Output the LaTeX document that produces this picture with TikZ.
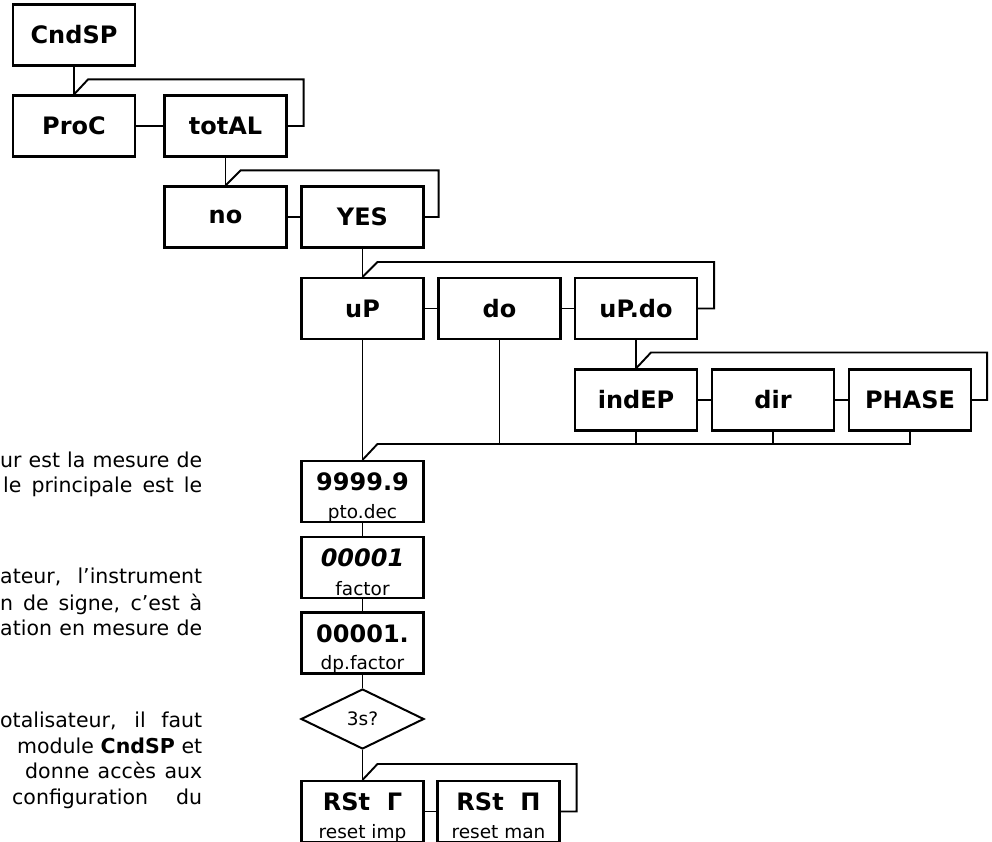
\documentclass[tikz,border=0pt]{standalone}
\usepackage{fontspec}
\setmainfont{DejaVu Sans}
\usetikzlibrary{shapes.geometric}
\tikzset{
  box/.style={draw, line width=2.1pt, minimum width=122pt, minimum height=61pt, inner sep=0pt, font=\fontsize{24}{28}\selectfont\bfseries},
  dbox/.style={draw, line width=2.1pt, minimum width=122pt, minimum height=61pt, inner sep=0pt},
  big/.style={inner sep=0pt, font=\fontsize{24}{28}\selectfont\bfseries},
  sub/.style={inner sep=0pt, font=\fontsize{18.5}{22}\selectfont},
  dia/.style={draw, diamond, line width=2pt, minimum width=123pt, minimum height=60pt, inner sep=0pt, aspect=2, font=\fontsize{18.5}{22}\selectfont},
  conn/.style={line width=1.9pt},
  para/.style={inner sep=0pt, anchor=base west, font=\fontsize{20.5}{25}\selectfont}
}
\begin{document}
\begin{tikzpicture}[x=1pt,y=-1pt]
\useasboundingbox (0,0) rectangle (992,842);
\clip (0,0) rectangle (992,842);

% left paragraph text (clipped on the left)
\node[para] (t1) at (0,467) {\makebox[202pt][s]{ur est la mesure de}};
\node[para] (t2) at (3,492) {\makebox[199pt][s]{le principale est le}};
\node[para] (t3) at (0,583) {\makebox[202pt][s]{ateur, l’instrument}};
\node[para] (t4) at (0,610) {\makebox[202pt][s]{n de signe, c’est à}};
\node[para] (t5) at (0,635) {\makebox[202pt][s]{ation en mesure de}};
\node[para] (t6) at (0,727) {\makebox[202pt][s]{otalisateur, il faut}};
\node[para] (t7) at (17,753) {\makebox[185pt][s]{module \textbf{CndSP} et}};
\node[para] (t8) at (25,778) {\makebox[177pt][s]{donne accès aux}};
\node[para] (t9) at (12,804) {\makebox[190pt][s]{configuration du}};

% single boxes
\node[box] (cnd) at (74,35) {CndSP};
\node[box] (proc) at (74,126) {ProC};
\node[box] (tot) at (225.5,126) {totAL};
\node[box] (no) at (225.5,217) {no};
\node[box] (yes) at (362.5,217) {YES};
\node[box] (up) at (362.5,308.5) {uP};
\node[box] (do) at (499.5,308.5) {do};
\node[box] (updo) at (636,308.5) {uP.do};
\node[box] (ind) at (636,400) {indEP};
\node[box] (dir) at (773,400) {dir};
\node[box] (pha) at (910,400) {PHASE};

% double-label boxes
\node[dbox, path picture={\node[sub, anchor=base] (d1s) at ([yshift=4pt]path picture bounding box.south) {pto.dec};}] (d1) at (362.5,491.5) {};
\node[big, anchor=base] (d1t) at ([yshift=-31pt]d1.north) {9999.9};
\node[dbox, path picture={\node[sub, anchor=base] (d2s) at ([yshift=3pt]path picture bounding box.south) {factor};}] (d2) at (362.5,567.5) {};
\node[big, anchor=base] (d2t) at ([yshift=-31pt]d2.north) {\itshape 00001};
\node[dbox, path picture={\node[sub, anchor=base] (d3s) at ([yshift=4pt]path picture bounding box.south) {dp.factor};}] (d3) at (362.5,643) {};
\node[big, anchor=base] (d3t) at ([yshift=-31pt]d3.north) {00001.};
\node[dia] (dia) at (362.5,719) {3s?};
\node[dbox, path picture={\node[sub, anchor=base] (r1s) at ([yshift=4pt]path picture bounding box.south) {reset imp};}] (r1) at (362.5,811.5) {};
\node[big, anchor=base] (r1t) at ([yshift=-31pt]r1.north) {RSt\ \ Γ};
\node[dbox, path picture={\node[sub, anchor=base] (r2s) at ([yshift=4pt]path picture bounding box.south) {reset man};}] (r2) at (498.5,811.5) {};
\node[big, anchor=base] (r2t) at ([yshift=-31pt]r2.north) {RSt\ \ П};

% connectors
\draw[conn] (cnd.south) -- (proc.north);
\draw[conn] (proc.north) -- ++(14,-15) -| ([xshift=16pt]tot.east) -- (tot.east);
\draw[conn] (proc.east) -- (tot.west);

\draw[conn] (tot.south) -- (no.north);
\draw[conn] (no.north) -- ++(15,-15) -| ([xshift=14pt]yes.east) -- (yes.east);
\draw[conn] (no.east) -- (yes.west);

\draw[conn] (yes.south) -- (up.north);
\draw[conn] (up.north) -- ++(15,-15) -| ([xshift=16pt]updo.east) -- (updo.east);
\draw[conn] (up.east) -- (do.west);
\draw[conn] (do.east) -- (updo.west);

\draw[conn] (updo.south) -- (ind.north);
\draw[conn] (ind.north) -- ++(15,-16) -| ([xshift=15pt]pha.east) -- (pha.east);
\draw[conn] (ind.east) -- (dir.west);
\draw[conn] (dir.east) -- (pha.west);

\draw[conn] (up.south) -- (d1.north);
\draw[conn] (d1.north) -- ++(15,-16) coordinate (busL) -| (pha.south);
\draw[conn] (do.south) -- (do.south |- busL);
\draw[conn] (ind.south) -- (ind.south |- busL);
\draw[conn] (dir.south) -- (dir.south |- busL);

\draw[conn] (d1.south) -- (d2.north);
\draw[conn] (d2.south) -- (d3.north);
\draw[conn] (d3.south) -- (dia.north);
\draw[conn] (dia.south) -- (r1.north);
\draw[conn] (r1.north) -- ++(15,-16) -| ([xshift=16pt]r2.east) -- (r2.east);
\draw[conn] (r1.east) -- (r2.west);
\end{tikzpicture}
\end{document}
